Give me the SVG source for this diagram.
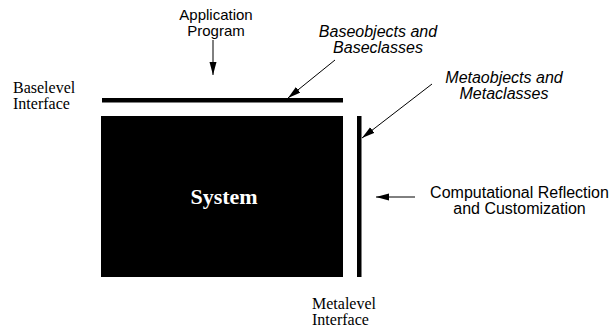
<svg xmlns="http://www.w3.org/2000/svg" width="610" height="329" viewBox="0 0 610 329">
<style>
.sans{font-family:"Liberation Sans",Arial,sans-serif;font-size:16px;fill:#000}
.ital{font-style:italic}
.serif{font-family:"Liberation Serif","Times New Roman",serif;font-size:16px;fill:#000}
.conn{stroke:#000;stroke-width:1;fill:none;marker-end:url(#ah)}
</style>
<defs>
<marker id="ah" markerUnits="userSpaceOnUse" markerWidth="14" markerHeight="8" refX="13" refY="3.5" orient="auto">
<path d="M0,0 L13,3.5 L0,7 Z" fill="#000"/>
</marker>
</defs>
<rect width="610" height="329" fill="#fff"/>
<g id="baselevel-bar"><rect x="102" y="98" width="241" height="4.5" fill="#000"/></g>
<g id="system"><rect x="101" y="116" width="242" height="161" fill="#000"/>
<text x="224" y="204" text-anchor="middle" font-family="'Liberation Serif','Times New Roman',serif" font-size="22" font-weight="bold" fill="#fff">System</text></g>
<g id="metalevel-bar"><rect x="357" y="116" width="4.5" height="161" fill="#000"/></g>
<g id="application-program"><text class="sans" text-anchor="middle" style="font-size:15px"><tspan x="216" y="19.5">Application</tspan><tspan x="216" y="35.5">Program</tspan></text></g>
<g id="baseobjects"><text class="sans ital" text-anchor="middle"><tspan x="378" y="36.5">Baseobjects and</tspan><tspan x="378" y="52.5">Baseclasses</tspan></text></g>
<g id="metaobjects"><text class="sans ital" text-anchor="middle"><tspan x="504" y="82.5">Metaobjects and</tspan><tspan x="504" y="98.5">Metaclasses</tspan></text></g>
<g id="computational"><text class="sans" text-anchor="middle"><tspan x="519.5" y="197.5">Computational Reflection</tspan><tspan x="519.5" y="213.5">and Customization</tspan></text></g>
<g id="baselevel-interface"><text class="serif"><tspan x="13" y="92.5">Baselevel</tspan><tspan x="13" y="108.5">Interface</tspan></text></g>
<g id="metalevel-interface"><text class="serif"><tspan x="312" y="308.5">Metalevel</tspan><tspan x="312" y="324.5">Interface</tspan></text></g>
<g id="connectors">
<line class="conn" x1="213" y1="40" x2="213" y2="75"/>
<line class="conn" x1="335" y1="60" x2="288" y2="98"/>
<line class="conn" x1="432" y1="84" x2="362" y2="138"/>
<line class="conn" x1="415" y1="197" x2="376" y2="197"/>
</g>
</svg>
